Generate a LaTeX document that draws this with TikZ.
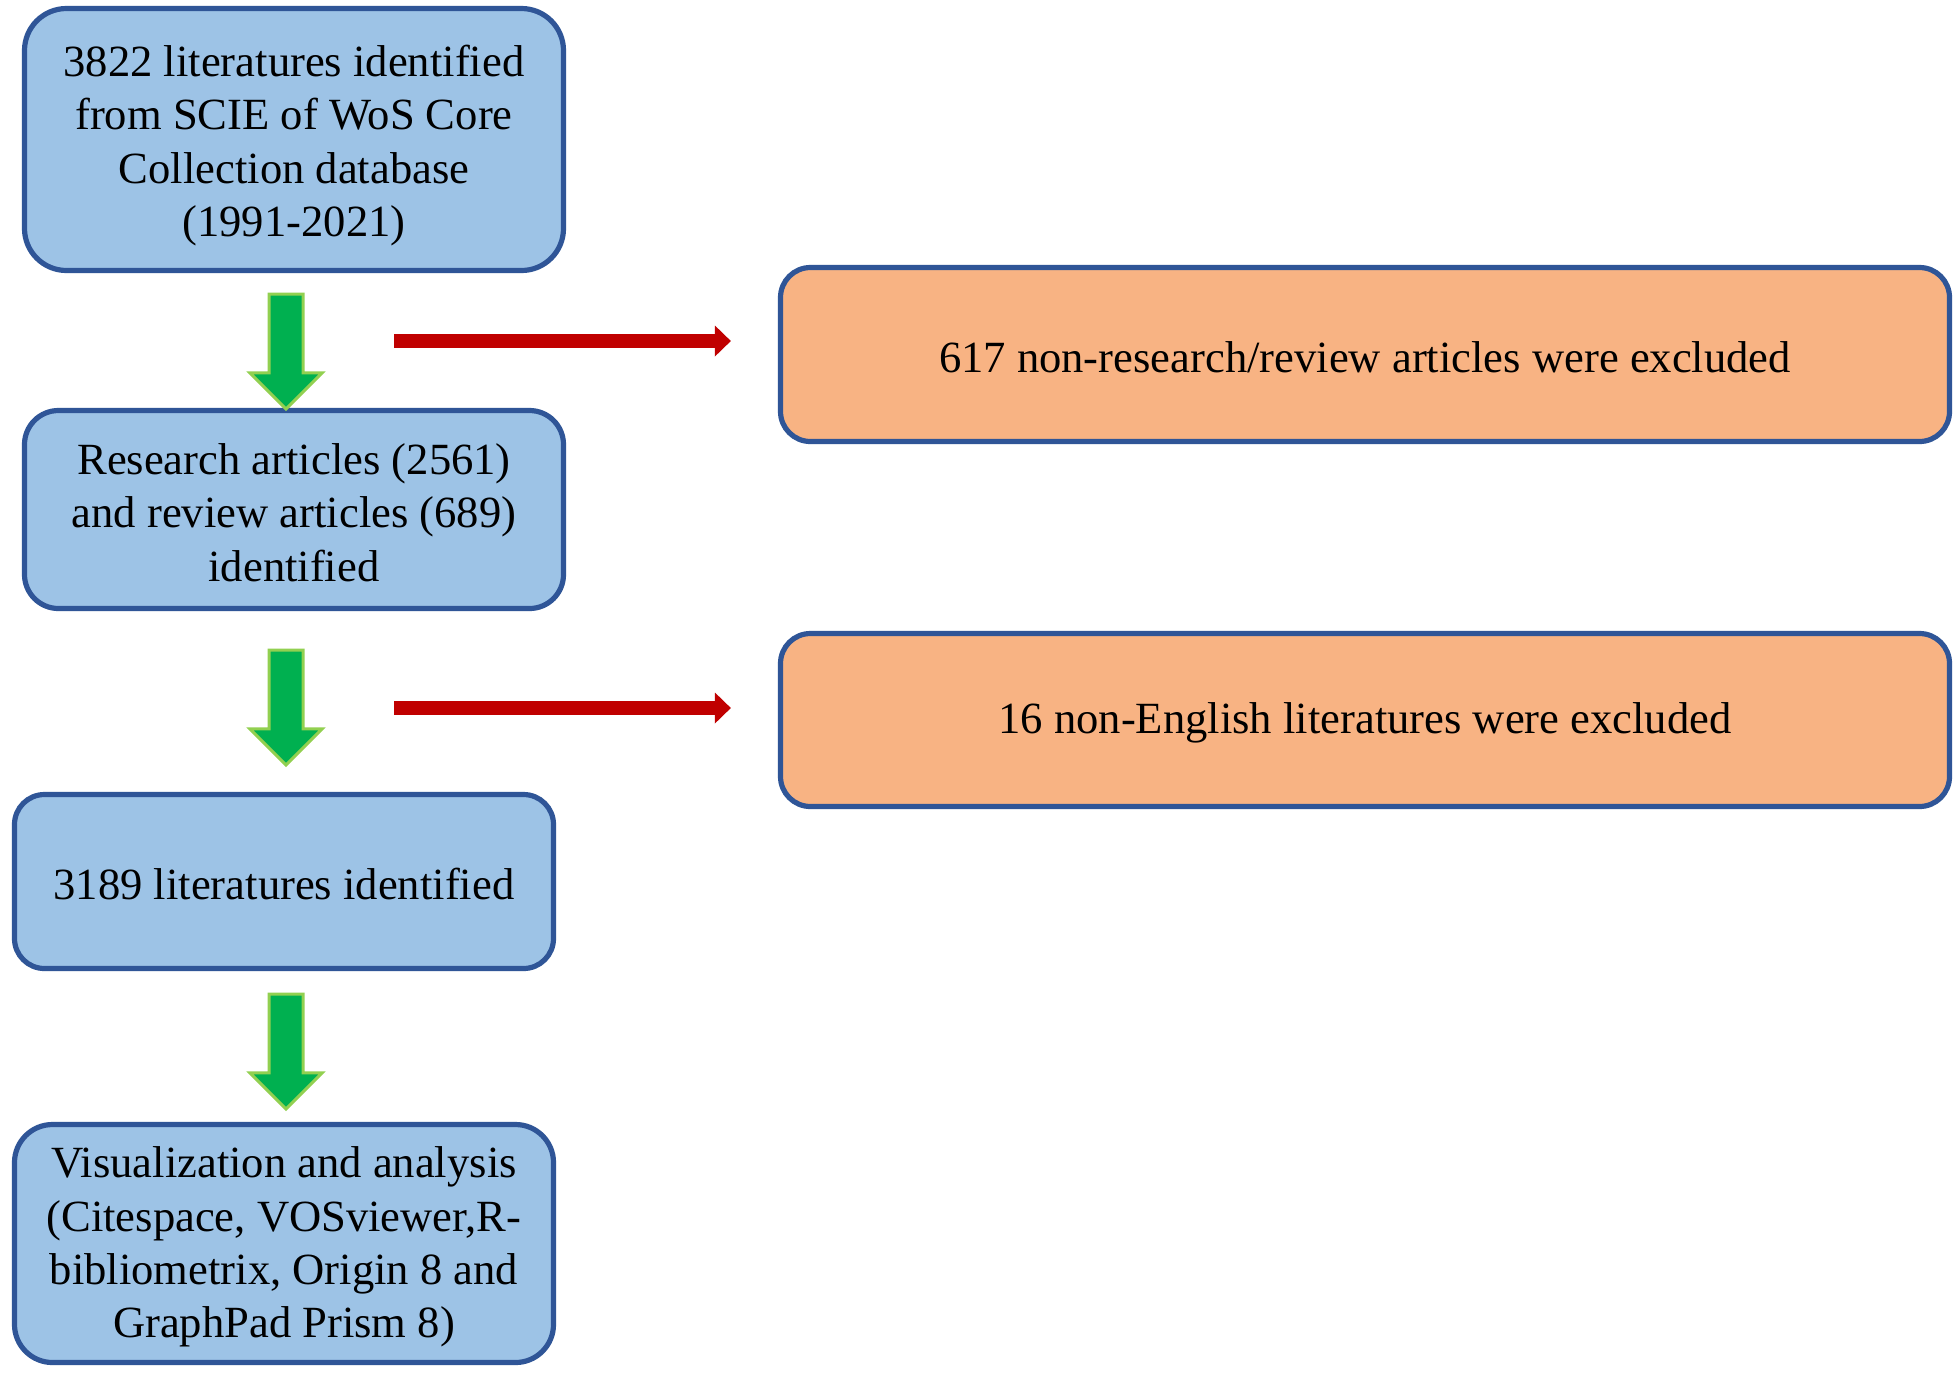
\documentclass[tikz,border=0pt]{standalone}
\usepackage{fontspec}
\setmainfont{Liberation Serif}
\usetikzlibrary{arrows.meta,calc}
\definecolor{boxblue}{HTML}{9DC3E6}
\definecolor{edgeblue}{HTML}{2F5597}
\definecolor{boxorange}{HTML}{F8B383}
\definecolor{garrowfill}{HTML}{00B050}
\definecolor{garrowedge}{HTML}{92D050}
\definecolor{rarrow}{HTML}{C00000}
\newcommand\greenarr[2]{%
  \fill[garrowfill,draw=garrowedge,line width=1.5pt,line join=miter]
    let \p1=(#1), \p2=(#2) in
    (\x1-8.5pt,\y1) -- (\x1+8.5pt,\y1) -- (\x1+8.5pt,\y2+18pt) -- (\x1+18pt,\y2+18pt)
    -- (\x1,\y2) -- (\x1-18pt,\y2+18pt) -- (\x1-8.5pt,\y2+18pt) -- cycle;}
\begin{document}
\begin{tikzpicture}[x=0.5pt,y=-0.5pt,
  every node/.style={font=\fontsize{22.3pt}{26.7pt}\selectfont, align=center, inner sep=0pt},
  bluebox/.style={draw=edgeblue, fill=boxblue, line width=2.6pt, minimum width=269.5pt},
  orangebox/.style={draw=edgeblue, fill=boxorange, line width=2.6pt, rounded corners=15pt, minimum width=584.5pt},
  redarr/.style={draw=rarrow, line width=7pt, -{Triangle[width=15pt,length=8pt]}}]
\useasboundingbox (0,0) rectangle (1959,1372);
\fill[white] (0,0) rectangle (1959,1372);

\node[bluebox, rounded corners=21pt, minimum height=131pt] (b1) at (294,139.5) {};
\node (t1) at (294,145.5)
  {3822 literatures identified\\from SCIE of WoS Core\\Collection database\\(1991-2021)};
\node[bluebox, rounded corners=17pt, minimum height=99pt] (b2) at (294,509.5) {};
\node (t2) at (294,512.5)
  {Research articles (2561)\\and review articles (689)\\identified};
\node[bluebox, rounded corners=15pt, minimum height=87pt] (b3) at (284,881.5) {};
\node (t3) at (284,883.5) {3189 literatures identified};
\node[bluebox, rounded corners=19pt, minimum height=119pt] (b4) at (284,1243.5) {};
\node (t4) at (284,1247)
  {Visualization and analysis\\(Citespace, VOSviewer,R-\\bibliometrix, Origin 8 and\\GraphPad Prism 8)};
\node[orangebox, minimum height=87pt] (o1) at (1365,354.5) {};
\node (t5) at (1365,357.5) {617 non-research/review articles were excluded};
\node[orangebox, minimum height=86.5pt] (o2) at (1365,720) {};
\node (t6) at (1365,723) {16 non-English literatures were excluded};

\coordinate (g1s) at ($(b1.south)+(-8,21)$);
\coordinate (g1e) at ($(b2.north)+(-8,1)$);
\coordinate (g2s) at ($(b2.south)+(-8,39)$);
\coordinate (g2e) at ($(b3.north)+(2,-27)$);
\coordinate (g3s) at ($(b3.south)+(2,23)$);
\coordinate (g3e) at ($(b4.north)+(2,-13)$);
\greenarr{g1s}{g1e}
\greenarr{g2s}{g2e}
\greenarr{g3s}{g3e}

\coordinate (r1s) at (394,341);
\coordinate (r1e) at ($(o1.west |- r1s)+(-47,0)$);
\coordinate (r2s) at (394,708);
\coordinate (r2e) at ($(o2.west |- r2s)+(-47,0)$);
\draw[redarr] (r1s) -- (r1e);
\draw[redarr] (r2s) -- (r2e);
\end{tikzpicture}
\end{document}
